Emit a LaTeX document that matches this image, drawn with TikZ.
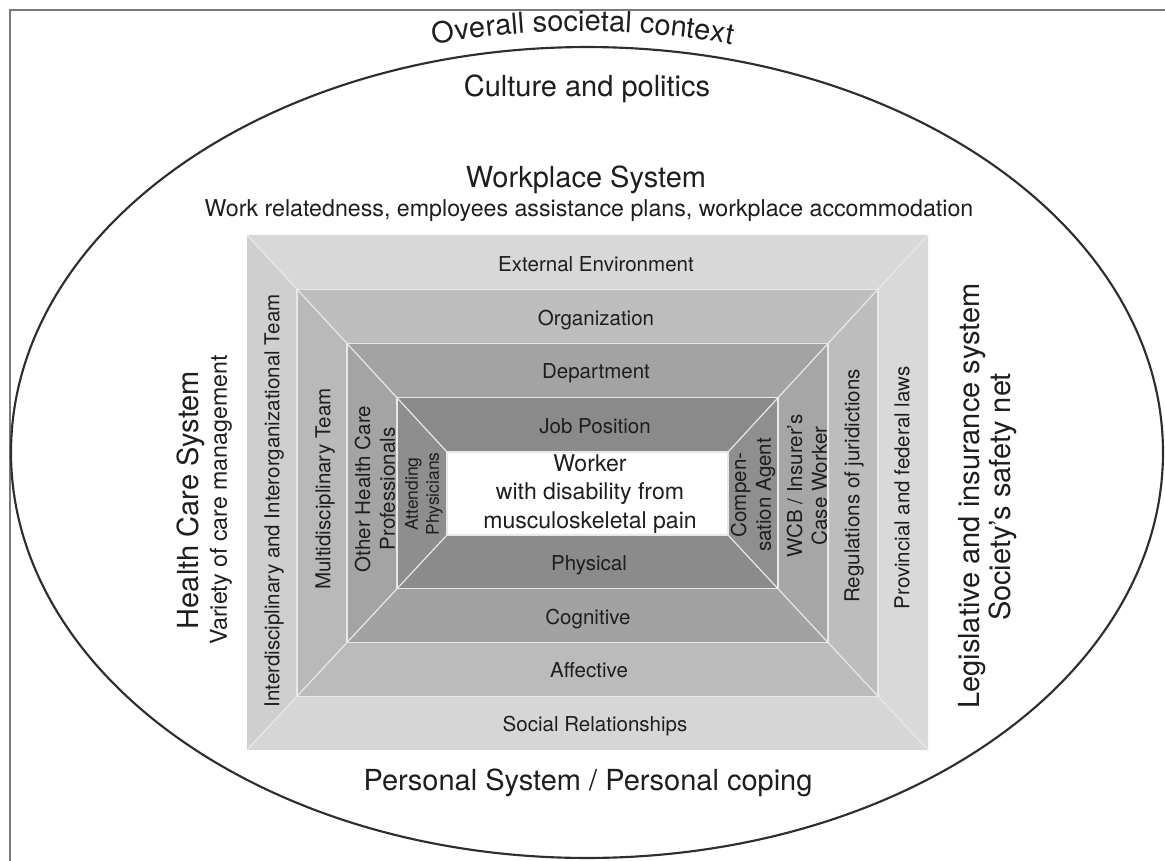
\documentclass[tikz,border=0pt]{standalone}
\usepackage{fontspec}
\setmainfont{TeX Gyre Heros}
\usetikzlibrary{calc,decorations.text}
\definecolor{txt}{HTML}{1E1E1E}
\definecolor{ell}{HTML}{2E2E2E}
\definecolor{frm}{HTML}{7A7A7A}
\definecolor{sepc}{HTML}{E8E8E8}
\definecolor{tA}{HTML}{D8D8D8}\definecolor{lA}{HTML}{CFCFCF}\definecolor{rA}{HTML}{D9D9D9}\definecolor{bA}{HTML}{D6D6D6}
\definecolor{tB}{HTML}{BEBEBE}\definecolor{lB}{HTML}{B9B9B9}\definecolor{rB}{HTML}{BDBDBD}\definecolor{bB}{HTML}{BBBBBB}
\definecolor{tC}{HTML}{A3A3A3}\definecolor{lC}{HTML}{A4A4A4}\definecolor{rC}{HTML}{A6A6A6}\definecolor{bC}{HTML}{A2A2A2}
\definecolor{tD}{HTML}{8A8A8A}\definecolor{lD}{HTML}{8E8E8E}\definecolor{rD}{HTML}{8F8F8F}\definecolor{bD}{HTML}{8B8B8B}
\begin{document}
\begin{tikzpicture}[x=0.75pt,y=-0.75pt,
  lbl/.style={text=txt, inner sep=0pt, align=center},
  big/.style={lbl, font=\fontsize{21.75pt}{26pt}\selectfont},
  bigone/.style={big, text height=15.6pt, text depth=0pt},
  med/.style={lbl, font=\fontsize{17.4pt}{21pt}\selectfont, text height=12.5pt, text depth=0pt},
  band/.style={lbl, font=\fontsize{15.4pt}{18.5pt}\selectfont},
  bandone/.style={band, text height=11.1pt, text depth=0pt},
  small/.style={lbl, font=\fontsize{13.1pt}{15.8pt}\selectfont},
  sepline/.style={draw=sepc, line width=0.9pt},
]
\useasboundingbox (0,0) rectangle (1165,861);
\fill[white] (0,0) rectangle (1165,861);

% frame
\draw[frm, line width=1.5pt] (10,861) -- (10,10) -- (1165,10);

% ellipse
\draw[ell, line width=1.6pt] (587,452.5) ellipse [x radius=432pt, y radius=304.1pt];

% nested rectangles
\coordinate (A0) at (247,235); \coordinate (B0) at (928,235);
\coordinate (C0) at (928,750); \coordinate (D0) at (247,750);
\coordinate (A4) at (447,452); \coordinate (B4) at (728,452);
\coordinate (C4) at (728,535); \coordinate (D4) at (447,535);
\foreach \k/\t in {1/0.25,2/0.5,3/0.75}{
  \coordinate (A\k) at ($(A0)!\t!(A4)$);
  \coordinate (B\k) at ($(B0)!\t!(B4)$);
  \coordinate (C\k) at ($(C0)!\t!(C4)$);
  \coordinate (D\k) at ($(D0)!\t!(D4)$);
}
\foreach \i/\j/\ct/\cl/\cr/\cb in {0/1/tA/lA/rA/bA,1/2/tB/lB/rB/bB,2/3/tC/lC/rC/bC,3/4/tD/lD/rD/bD}{
  \fill[\ct] (A\i) -- (B\i) -- (B\j) -- (A\j) -- cycle;
  \fill[\cl] (A\i) -- (A\j) -- (D\j) -- (D\i) -- cycle;
  \fill[\cr] (B\i) -- (C\i) -- (C\j) -- (B\j) -- cycle;
  \fill[\cb] (D\i) -- (D\j) -- (C\j) -- (C\i) -- cycle;
}
\fill[white] (A4) rectangle (C4);
\foreach \k in {1,2,3,4}{ \draw[sepline] (A\k) rectangle (C\k); }
\draw[sepline] (A0) -- (A4); \draw[sepline] (B0) -- (B4);
\draw[sepline] (C0) -- (C4); \draw[sepline] (D0) -- (D4);

% curved title
\path[decorate, decoration={text along path, text align=center,
  text={|\fontsize{21.75pt}{26pt}\selectfont\color{txt}|Overall societal context}}]
  plot[smooth, domain=-24:24, samples=25] ({583+592*sin(\x)}, {452.5-421.5*cos(\x)});

% outer labels
\node[bigone] (culture) at (587,86) {Culture and politics};
\node[bigone] (workplace) at (586,177) {Workplace System};
\node[med] (workrel) at (589,208.5) {Work relatedness, employees assistance plans, workplace accommodation};
\node[bigone] (personal) at (588,780) {Personal System / Personal coping};
\node[bigone, rotate=90] (health) at (188.5,500) {Health Care System};
\node[med, rotate=90] (variety) at (218.5,500) {Variety of care management};
\node[bigone, rotate=90] (legis) at (969,496) {Legislative and insurance system};
\node[bigone, rotate=90] (safety) at (1000,497) {Society's safety net};

% top bands
\node[bandone] (ext) at (596,264) {External Environment};
\node[bandone] (org) at (596,318) {Organization};
\node[bandone] (dep) at (596,371) {Department};
\node[bandone] (job) at (595,426) {Job Position};
% bottom bands
\node[bandone] (phys) at (589,563) {Physical};
\node[bandone] (cogn) at (588,617) {Cognitive};
\node[bandone] (affe) at (589,670) {Affective};
\node[bandone] (soc) at (595,724) {Social Relationships};
% left bands
\node[bandone, rotate=90] (inter) at (272,501) {Interdisciplinary and Interorganizational Team};
\node[bandone, rotate=90] (multi) at (323,489) {Multidisciplinary Team};
\node[band, rotate=90] (other) at (375,489) {Other Health Care\\Professionals};
\node[small, rotate=90] (attend) at (424,494) {Attending\\Physicians};
% right bands
\node[band, rotate=90] (comp) at (753,495) {Compen-\\sation Agent};
\node[band, rotate=90] (wcb) at (807,486) {WCB / Insurer's\\Case Worker};
\node[bandone, rotate=90] (regul) at (852,486) {Regulations of juridictions};
\node[bandone, rotate=90] (prov) at (902,488) {Provincial and federal laws};

% centre
\node[lbl, font=\fontsize{17.3pt}{21.4pt}\selectfont] (worker) at (590,494) {Worker\\with disability from\\musculoskeletal pain};
\end{tikzpicture}
\end{document}
